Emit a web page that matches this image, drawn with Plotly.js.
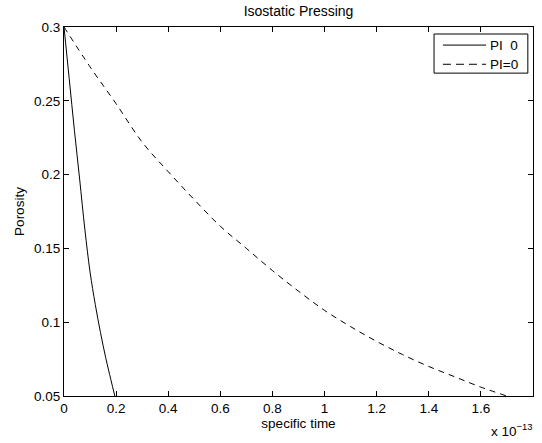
<!DOCTYPE html>
<html>
<head>
<meta charset="utf-8">
<script src="https://cdn.plot.ly/plotly-3.0.1.min.js"></script>
<style>html,body{margin:0;padding:0;background:#fff;}#chart{width:542px;height:443px;}</style>
</head>
<body>
<div id="chart"></div>
<script>
// specific time in units of 1e-13
const timeSolid = [0, 0.02, 0.04, 0.06, 0.08, 0.10, 0.12, 0.14, 0.16, 0.18, 0.195];
const porositySolid = [0.300, 0.265, 0.230, 0.197, 0.163, 0.134, 0.112, 0.093, 0.076, 0.061, 0.050];
const timeDashed = [0, 0.1, 0.2, 0.3, 0.4, 0.5, 0.6, 0.7, 0.8, 0.9, 1.0, 1.1, 1.2, 1.3, 1.4, 1.5, 1.6, 1.7];
const porosityDashed = [0.300, 0.273, 0.248, 0.222, 0.202, 0.183, 0.165, 0.150, 0.135, 0.121, 0.108, 0.097, 0.087, 0.078, 0.070, 0.063, 0.056, 0.050];
const xTicks = [0, 0.2, 0.4, 0.6, 0.8, 1, 1.2, 1.4, 1.6, 1.8];
const yTicks = [0.05, 0.1, 0.15, 0.2, 0.25, 0.3];
const seriesNames = ['PI  0', 'PI=0'];

const fam = 'Liberation Sans, Arial, Helvetica, sans-serif';
const font = {family: fam, size: 13.5, color: '#000'};
const dashes = ['solid', '6px,5px'];

const traces = [
  {x: timeSolid, y: porositySolid, mode: 'lines', name: seriesNames[0], line: {color: '#000', width: 1, shape: 'spline', dash: dashes[0]}},
  {x: timeDashed, y: porosityDashed, mode: 'lines', name: seriesNames[1], line: {color: '#000', width: 1, shape: 'spline', dash: dashes[1]}}
];

const axisCommon = {
  showgrid: false, zeroline: false, showline: true, linecolor: '#000', linewidth: 1,
  mirror: 'ticks', ticks: 'inside', ticklen: 5, tickcolor: '#000', tickfont: font
};

// MATLAB-style legend box drawn in paper coordinates
const legBox = {x0: 0.789, x1: 0.989, y0: 0.875, y1: 0.981};
const legRows = [0.951, 0.899];
const shapes = [{type: 'rect', xref: 'paper', yref: 'paper', x0: legBox.x0, x1: legBox.x1, y0: legBox.y0, y1: legBox.y1,
  line: {color: '#000', width: 1}, fillcolor: '#fff', layer: 'above'}];
const annotations = [];
seriesNames.forEach((name, i) => {
  shapes.push({type: 'line', xref: 'paper', yref: 'paper', x0: 0.808, x1: 0.900, y0: legRows[i], y1: legRows[i],
    line: {color: '#000', width: 1, dash: i === 1 ? '8px,5px' : 'solid'}, layer: 'above'});
  annotations.push({xref: 'paper', yref: 'paper', x: 0.905, y: legRows[i], xanchor: 'left', yanchor: 'middle',
    text: name, showarrow: false, font: font});
});
annotations.push({xref: 'paper', yref: 'paper', x: 1.005, y: -0.062, xanchor: 'right', yanchor: 'top',
  text: 'x 10<sup>−13</sup>', showarrow: false, font: font});

const layout = {
  width: 542, height: 443,
  margin: {l: 64, r: 9, t: 27, b: 47},
  paper_bgcolor: '#fff', plot_bgcolor: '#fff',
  font: font,
  title: {text: 'Isostatic Pressing', font: {family: fam, size: 14, color: '#000'}, xref: 'paper', x: 0.5, xanchor: 'center', yref: 'container', y: 0.985, yanchor: 'top'},
  xaxis: Object.assign({}, axisCommon, {range: [0, 1.8], tickvals: xTicks, ticktext: xTicks.map(String),
    title: {text: 'specific time', font: font, standoff: 0}}),
  yaxis: Object.assign({}, axisCommon, {range: [0.05, 0.3], tickvals: yTicks, ticktext: yTicks.map(String),
    title: {text: 'Porosity', font: font, standoff: 6}}),
  showlegend: false,
  shapes: shapes,
  annotations: annotations
};

Plotly.newPlot('chart', traces, layout, {displayModeBar: false, staticPlot: true});
</script>
</body>
</html>
